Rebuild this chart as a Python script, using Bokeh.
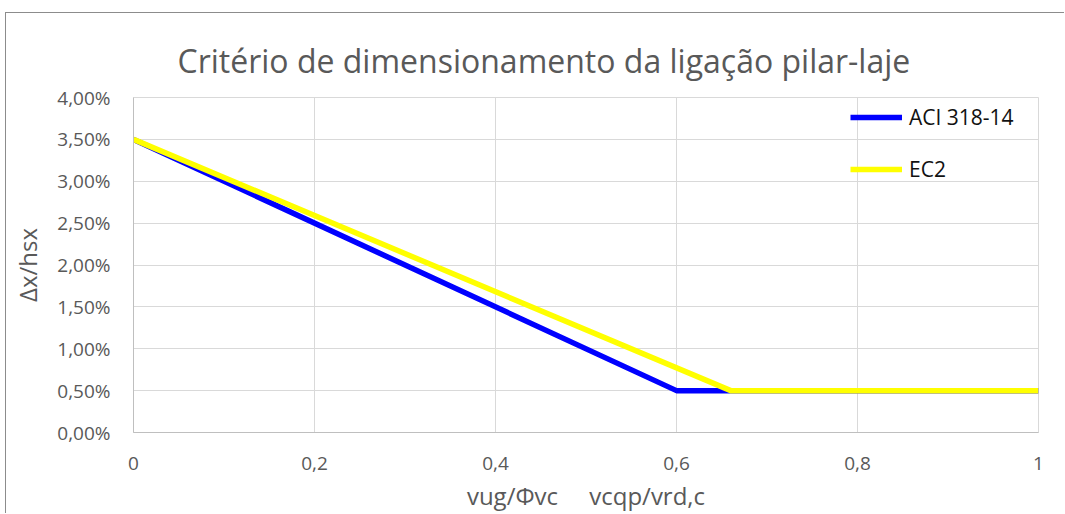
from bokeh.plotting import figure
from bokeh.models import (Range1d, FixedTicker, CustomJSTickFormatter, Legend, LegendItem, Title)
from bokeh.embed import file_html
from bokeh.resources import INLINE

# ---- data ----
title_text = "Critério de dimensionamento da ligação pilar-laje"
x_label = "vug/Φvc\u00a0\u00a0\u00a0\u00a0\u00a0vcqp/vrd,c"
y_label = "Δx/hsx"

aci_name = "ACI 318-14"
aci_x = [0.0, 0.6, 1.0]
aci_y = [0.035, 0.005, 0.005]

ec2_name = "EC2"
ec2_x = [0.0, 0.66, 1.0]
ec2_y = [0.035, 0.005, 0.005]

x_ticks = [0, 0.2, 0.4, 0.6, 0.8, 1.0]
y_ticks = [0.0, 0.005, 0.01, 0.015, 0.02, 0.025, 0.03, 0.035, 0.04]

FONT = "Open Sans"
GREY = "#595959"

p = figure(width=1059, height=501, output_backend="svg", toolbar_location=None,
           x_range=Range1d(0, 1), y_range=Range1d(0, 0.04),
           min_border_left=127, min_border_right=27, min_border_top=84, min_border_bottom=80,
           background_fill_color="white", border_fill_color="white",
           outline_line_color="#d9d9d9",
           styles={"margin-left": "5px", "margin-top": "12px",
                   "border-left": "1px solid #8c8c8c", "border-top": "1px solid #8c8c8c"})

t = Title(text=title_text, align="left", text_font=FONT, text_font_size="32px",
          text_color=GREY, text_font_style="normal", standoff=31, offset=44)
p.add_layout(t, "above")

# axes
p.xaxis.ticker = FixedTicker(ticks=x_ticks)
p.yaxis.ticker = FixedTicker(ticks=y_ticks)
p.xaxis.formatter = CustomJSTickFormatter(code="""
var s = (Math.round(tick*10)/10).toString();
return s.replace('.', ',');
""")
p.yaxis.formatter = CustomJSTickFormatter(code="""
return (tick*100).toFixed(2).replace('.', ',') + '%';
""")
for ax in (p.xaxis, p.yaxis):
    ax.major_tick_line_color = None
    ax.minor_tick_line_color = None
    ax.axis_line_color = "#bfbfbf"
    ax.major_label_text_font = FONT
    ax.major_label_text_font_size = "19px"
    ax.major_label_text_color = GREY
    ax.axis_label_text_font = FONT
    ax.axis_label_text_font_size = "24px"
    ax.axis_label_text_color = GREY
    ax.axis_label_text_font_style = "normal"

p.xaxis.axis_label = x_label
p.yaxis.axis_label = y_label
p.xaxis.major_label_standoff = 18
p.xaxis.axis_label_standoff = 6
p.yaxis.major_label_standoff = 17
p.yaxis.axis_label_standoff = 10

p.xgrid.ticker = FixedTicker(ticks=x_ticks)
p.ygrid.ticker = FixedTicker(ticks=y_ticks)
p.xgrid.grid_line_color = "#d9d9d9"
p.ygrid.grid_line_color = "#d9d9d9"

r1 = p.line(aci_x, aci_y, line_color="#0000ff", line_width=5.5, line_join="round")
r2 = p.line(ec2_x, ec2_y, line_color="#ffff00", line_width=5.5, line_join="round")

legend = Legend(items=[LegendItem(label=aci_name, renderers=[r1]),
                       LegendItem(label=ec2_name, renderers=[r2])],
                location=(717, 248), padding=0, margin=0, spacing=22,
                glyph_width=52, glyph_height=30, label_height=30, label_standoff=7,
                label_text_font=FONT, label_text_font_size="21px", label_text_color="#111111",
                border_line_color=None, background_fill_alpha=0)
p.add_layout(legend, "center")

open("out.html", "w").write(file_html(p, INLINE))
